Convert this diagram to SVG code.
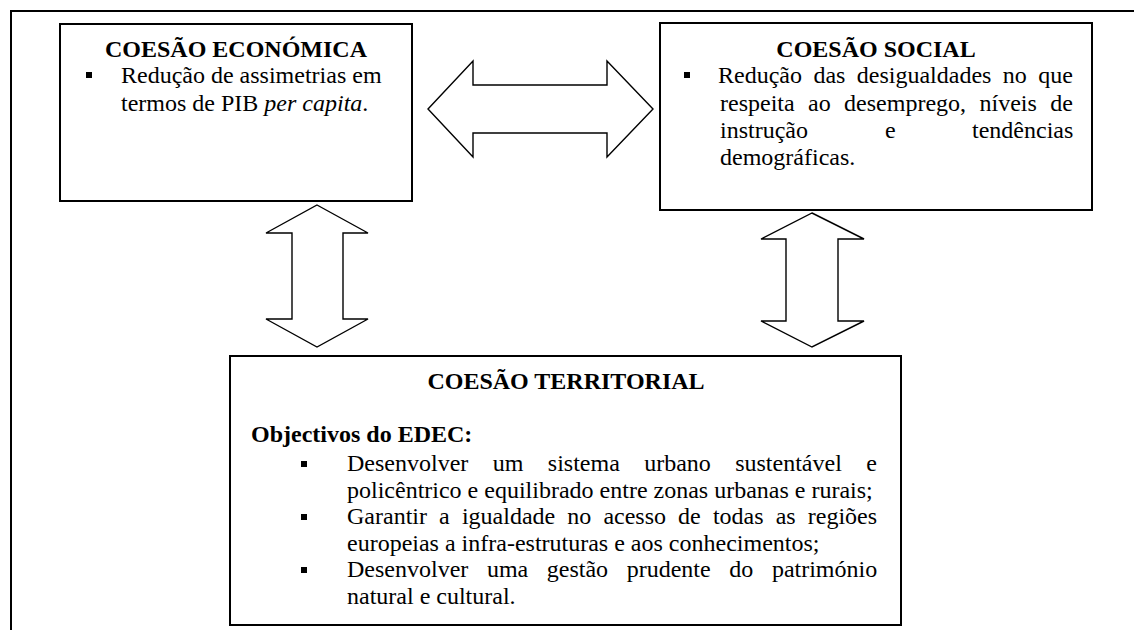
<svg xmlns="http://www.w3.org/2000/svg" width="1134" height="630" viewBox="0 0 1134 630">
<style>
.box{fill:#fff;stroke:#000;stroke-width:2}
.frame{fill:none;stroke:#000;stroke-width:2}
.arrow{fill:#fff;stroke:#000;stroke-width:1.4;stroke-linejoin:miter}
text{font-family:'Liberation Serif','Times New Roman','DejaVu Serif',serif;font-size:24px;fill:#000}
.b{font-weight:bold}
.h{font-weight:bold;text-anchor:middle}
.bul{fill:#000}
</style>
<rect width="1134" height="630" fill="#fff"/>
<g id="frame">
<path class="frame" d="M11,630 V11 H1134"/>
</g>
<g id="connectors">
<polygon id="arrow-econ-social" class="arrow" points="428,109 473,61 473,85 607,85 607,61 653,109 607,157 607,133 473,133 473,157"/>
<polygon id="arrow-econ-terr" class="arrow" points="317,205 368,233 343,233 343,319 368,319 317,347 266,319 292,319 292,233 266,233"/>
<polygon id="arrow-social-terr" class="arrow" points="812,213 864,239 838,239 838,321 864,321 812,347 761,321 786,321 786,239 761,239"/>
</g>
<g id="node-economica" font-family="Liberation Serif, serif">
<rect class="box" x="60" y="24" width="352" height="177"/>
<text class="h" x="236" y="57">COESÃO ECONÓMICA</text>
<rect class="bul" x="86" y="72" width="6" height="6"/>
<text x="121" y="83">Redução de assimetrias em</text>
<text x="121" y="111">termos de PIB <tspan font-style="italic">per capita</tspan>.</text>
</g>
<g id="node-social" font-family="Liberation Serif, serif">
<rect class="box" x="660" y="23" width="432" height="187"/>
<text class="h" x="876" y="57">COESÃO SOCIAL</text>
<rect class="bul" x="684" y="72" width="6" height="6"/>
<text y="83"><tspan x="718">Redução</tspan><tspan x="813.4">das</tspan><tspan x="856.8">desigualdades</tspan><tspan x="1002.8">no</tspan><tspan x="1038.2">que</tspan></text>
<text y="110.5"><tspan x="720">respeita</tspan><tspan x="808">ao</tspan><tspan x="844.1">desemprego,</tspan><tspan x="979.5">níveis</tspan><tspan x="1050.2">de</tspan></text>
<text y="138"><tspan x="720">instrução</tspan><tspan x="885">e</tspan><tspan x="972">tendências</tspan></text>
<text x="720" y="165">demográficas.</text>
</g>
<g id="node-territorial" font-family="Liberation Serif, serif">
<rect class="box" x="230" y="356" width="671" height="269"/>
<text class="h" x="566" y="389">COESÃO TERRITORIAL</text>
<text class="b" x="251" y="442">Objectivos do EDEC:</text>
<rect class="bul" x="301" y="461" width="6" height="6"/>
<text y="471"><tspan x="347">Desenvolver</tspan><tspan x="492.7">um</tspan><tspan x="547.8">sistema</tspan><tspan x="644.2">urbano</tspan><tspan x="735.2">sustentável</tspan><tspan x="866.3">e</tspan></text>
<text x="347" y="497.5">policêntrico e equilibrado entre zonas urbanas e rurais;</text>
<rect class="bul" x="301" y="514" width="6" height="6"/>
<text y="524"><tspan x="347">Garantir</tspan><tspan x="439.1">a</tspan><tspan x="461.9">igualdade</tspan><tspan x="567.3">no</tspan><tspan x="603.4">acesso</tspan><tspan x="678.1">de</tspan><tspan x="712.9">todas</tspan><tspan x="775.7">as</tspan><tspan x="807.8">regiões</tspan></text>
<text x="347" y="550.5">europeias a infra-estruturas e aos conhecimentos;</text>
<rect class="bul" x="301" y="567" width="6" height="6"/>
<text y="577"><tspan x="347">Desenvolver</tspan><tspan x="486.9">uma</tspan><tspan x="546.8">gestão</tspan><tspan x="626.7">prudente</tspan><tspan x="729.3">do</tspan><tspan x="771.9">património</tspan></text>
<text x="347" y="603.5">natural e cultural.</text>
</g>
</svg>
